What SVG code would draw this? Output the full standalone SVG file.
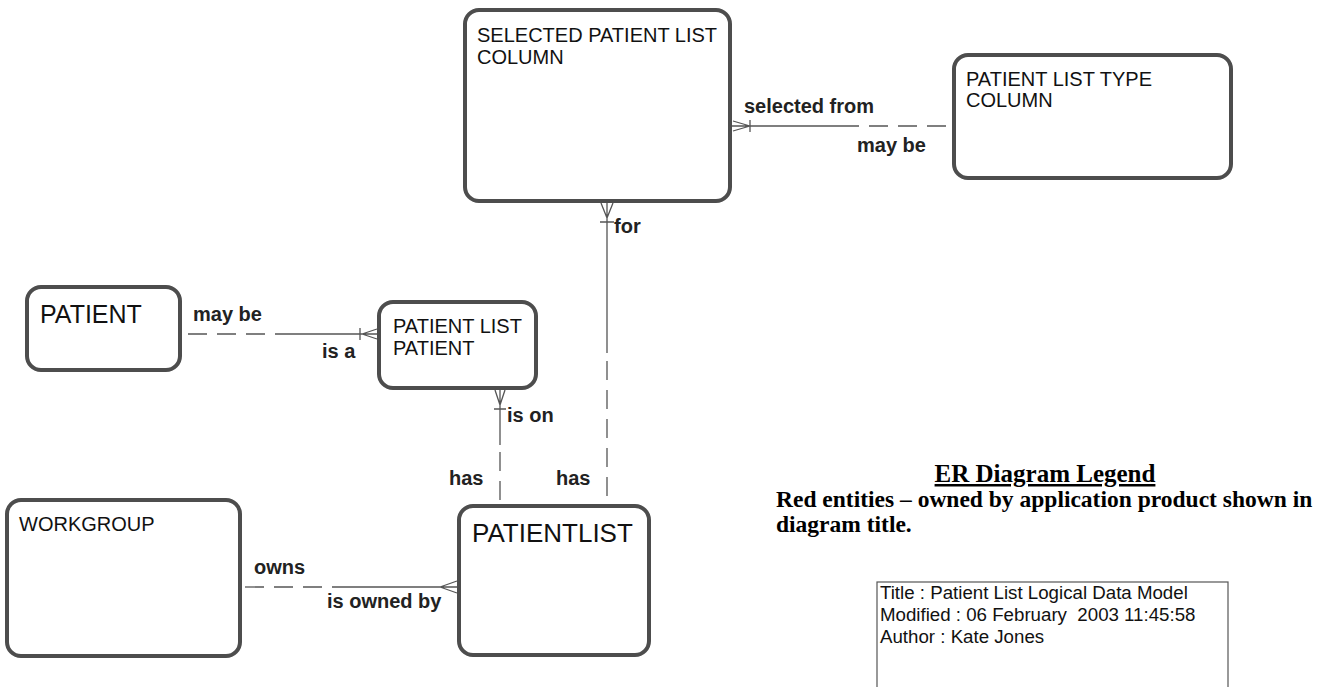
<svg xmlns="http://www.w3.org/2000/svg" width="1324" height="687" viewBox="0 0 1324 687">
<style>
.ent{fill:#fff;stroke:#4d4d4d;stroke-width:4}
.et{font-family:"Liberation Sans",Arial,sans-serif;font-size:20px;fill:#111}
.lb{font-family:"Liberation Sans",Arial,sans-serif;font-size:20px;font-weight:bold;fill:#222}
.ln{fill:none;stroke:#555;stroke-width:1.3}
.ds{stroke-dasharray:19 10}
.lg{font-family:"Liberation Serif","Times New Roman",serif;font-weight:bold;fill:#000}
.tt{font-family:"Liberation Sans",Arial,sans-serif;font-size:18.7px;fill:#111}
</style>
<rect width="1324" height="687" fill="#fff"/>
<g id="connectors">
<path class="ln" d="M732,126 H840 M750,126 L733,121 M750,126 L733,131 M750,120 V132"/>
<path class="ln ds" d="M840,126 H952"/>
<path class="ln" d="M607,203 V353 M607,218 L601,203 M607,218 L613,203 M600,222 H614"/>
<path class="ln ds" d="M607,361 V504"/>
<path class="ln ds" d="M188,334 H278"/>
<path class="ln" d="M278,334 H377 M362,334 L377,329 M362,334 L377,339 M360,328 V340"/>
<path class="ln" d="M500,390 V445 M500,405 L495,390 M500,405 L505,390 M494,409 H506"/>
<path class="ln ds" d="M500,452 V504"/>
<path class="ln ds" d="M245,587 H348"/>
<path class="ln" d="M348,587 H457 M440,587 L457,581 M440,587 L457,593"/>
</g>
<g id="labels">
<text class="lb" x="744" y="113">selected from</text>
<text class="lb" x="857" y="152">may be</text>
<text class="lb" x="614" y="233">for</text>
<text class="lb" x="193" y="321">may be</text>
<text class="lb" x="322" y="358">is a</text>
<text class="lb" x="507" y="422">is on</text>
<text class="lb" x="449" y="485">has</text>
<text class="lb" x="556" y="485">has</text>
<text class="lb" x="254" y="574">owns</text>
<text class="lb" x="327" y="608">is owned by</text>
</g>
<g id="selected-patient-list-column">
<rect class="ent" x="465" y="10" width="265" height="191" rx="14"/>
<text class="et" x="477" y="42">SELECTED PATIENT LIST</text>
<text class="et" x="477" y="64">COLUMN</text>
</g>
<g id="patient-list-type-column">
<rect class="ent" x="954" y="55" width="277" height="123" rx="14"/>
<text class="et" x="966" y="86">PATIENT LIST TYPE</text>
<text class="et" x="966" y="107">COLUMN</text>
</g>
<g id="patient">
<rect class="ent" x="27" y="287" width="153" height="83" rx="14"/>
<text class="et" x="40" y="323" style="font-size:25px">PATIENT</text>
</g>
<g id="patient-list-patient">
<rect class="ent" x="379" y="302" width="157" height="86" rx="14"/>
<text class="et" x="393" y="333">PATIENT LIST</text>
<text class="et" x="393" y="355">PATIENT</text>
</g>
<g id="patientlist">
<rect class="ent" x="459" y="506" width="190" height="149" rx="14"/>
<text class="et" x="472" y="542" style="font-size:26px">PATIENTLIST</text>
</g>
<g id="workgroup">
<rect class="ent" x="7" y="500" width="233" height="156" rx="14"/>
<text class="et" x="19" y="531">WORKGROUP</text>
</g>
<g id="legend">
<text class="lg" x="1045" y="482" text-anchor="middle" style="font-size:25px;text-decoration:underline">ER Diagram Legend</text>
<text class="lg" x="776" y="507" style="font-size:23.5px">Red entities – owned by application product shown in</text>
<text class="lg" x="776" y="532" style="font-size:23.5px">diagram title.</text>
</g>
<g id="title-block">
<rect x="877" y="582" width="351" height="110" fill="#fff" stroke="#555" stroke-width="1.2"/>
<text class="tt" x="880" y="599">Title : Patient List Logical Data Model</text>
<text class="tt" x="880" y="621">Modified : 06 February&#160; 2003 11:45:58</text>
<text class="tt" x="880" y="643">Author : Kate Jones</text>
</g>
</svg>
